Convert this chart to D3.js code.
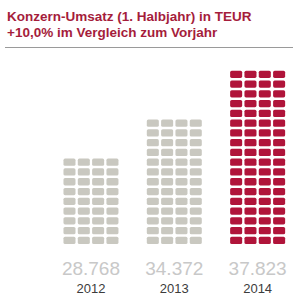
<!DOCTYPE html>
<html>
<head>
<meta charset="utf-8">
<script src="https://cdn.jsdelivr.net/npm/d3@7"></script>
<style>
  html, body { margin: 0; padding: 0; background: #fff; }
  svg { display: block; font-family: "Liberation Sans", Arial, sans-serif; }
</style>
</head>
<body>
<svg id="chart" width="302" height="300"></svg>
<script>
const years = ["2012", "2013", "2014"]
const values = ["28.768", "34.372", "37.823"]
// stacked rows of tiles per year, as counted in the picture
const rows = [9, 13, 18]
const highlight = [false, false, true]
const titleLines = ["Konzern-Umsatz (1. Halbjahr) in TEUR", "+10,0% im Vergleich zum Vorjahr"]

const W = 302, H = 300
const svg = d3.select("#chart")

//title
svg.selectAll("text.title")
  .data(titleLines).enter().append("text")
  .attr("class", "title")
  .attr("x", 7)
  .attr("y", (d, i) => 20.6 + i * 16)
  .attr("fill", "#a51d3b")
  .attr("font-size", 13.5)
  .attr("font-weight", "bold")
  .text(d => d)

svg.append("line")
  .attr("x1", 5).attr("x2", 293)
  .attr("y1", 47.5).attr("y2", 47.5)
  .attr("stroke", "#9a9a9a").attr("stroke-width", 1)

//scales
let x = d3.scaleBand().domain(years).range([49.3, 299.3])
let cols = d3.scaleBand().domain(d3.range(4)).range([-27.5, 27.5]).paddingInner(0.16)
let pitch = 9.77, gap = 2.5, base = 244
let y = d3.scaleLinear().domain([0, 1]).range([base - pitch + gap, base - 2 * pitch + gap])

//tiles
let tiles = []
years.forEach((yr, i) => {
  d3.range(rows[i]).forEach(r => {
    d3.range(4).forEach(c => tiles.push({ yr, r, c, hot: highlight[i] }))
  })
})

svg.append("g").selectAll("rect")
  .data(tiles).enter().append("rect")
  .attr("x", d => x(d.yr) + x.bandwidth() / 2 + cols(d.c))
  .attr("y", d => y(d.r))
  .attr("width", cols.bandwidth())
  .attr("height", pitch - gap)
  .attr("rx", 1.6)
  .attr("fill", d => d.hot ? "#b0143a" : "#c9c8c0")

//labels
svg.selectAll("text.value")
  .data(values).enter().append("text")
  .attr("class", "value")
  .attr("x", (d, i) => x(years[i]) + x.bandwidth() / 2)
  .attr("y", 275)
  .attr("text-anchor", "middle")
  .attr("font-size", 19)
  .attr("fill", "#c8c8c8")
  .text(d => d)

svg.selectAll("text.year")
  .data(years).enter().append("text")
  .attr("class", "year")
  .attr("x", d => x(d) + x.bandwidth() / 2)
  .attr("y", 293)
  .attr("text-anchor", "middle")
  .attr("font-size", 13)
  .attr("fill", "#3c3c3c")
  .text(d => d)
</script>
</body>
</html>
